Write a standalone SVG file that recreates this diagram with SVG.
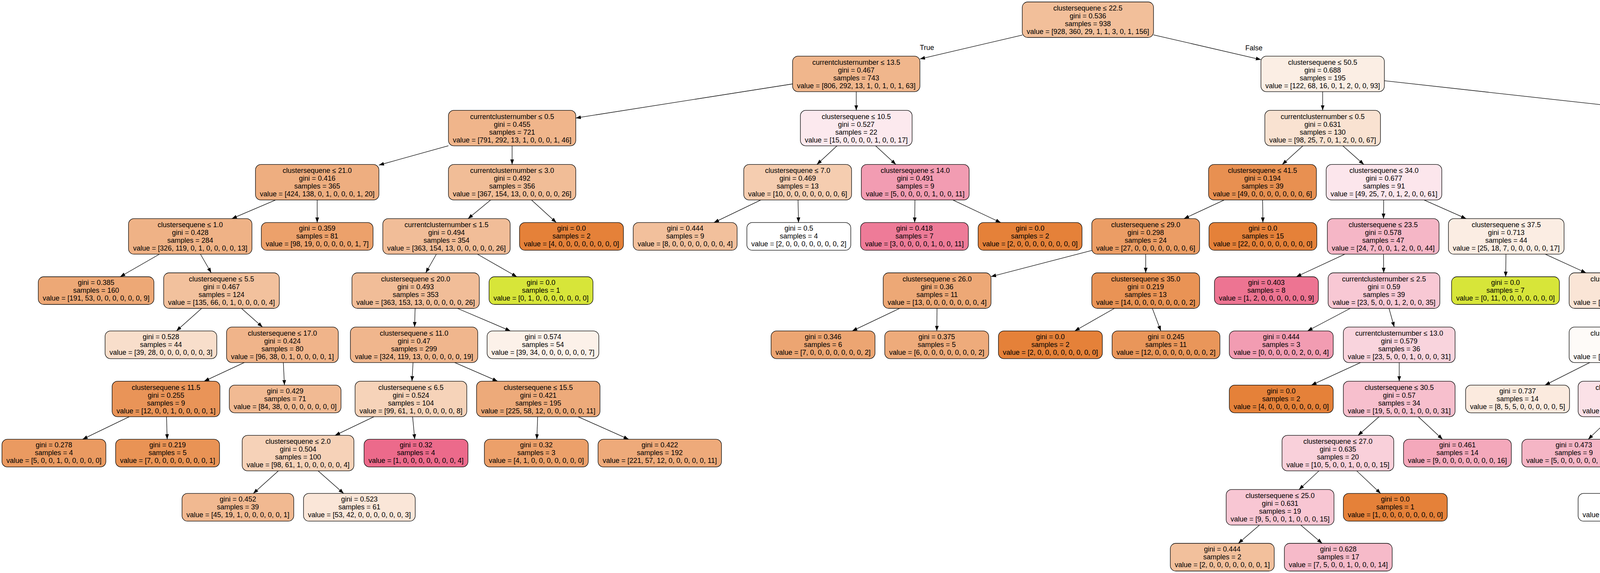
<svg xmlns="http://www.w3.org/2000/svg" width="6936" height="1468" viewBox="0 0 6936 1468">
<defs>
<style>
text{font-family:"Liberation Sans",Arial,Helvetica,sans-serif;font-size:18px;text-anchor:middle;fill:#000}
.node rect{stroke:#000;stroke-width:1.3}
.edges line{stroke:#000;stroke-width:1.3;marker-end:url(#arr)}
</style>
<marker id="arr" markerWidth="13" markerHeight="10" refX="13" refY="4.75" orient="auto" markerUnits="userSpaceOnUse"><path d="M0,0 L13,4.75 L0,9.5 z" fill="#000"/></marker>
</defs>
<rect x="0" y="0" width="6936" height="1468" fill="#fff"/>
<g id="edges" class="edges">
<line x1="2617" y1="89.8" x2="2355" y2="151.1"/>
<line x1="2953" y1="89.3" x2="3228" y2="152.8"/>
<line x1="2029" y1="215" x2="1474" y2="302.4"/>
<line x1="2192" y1="234.8" x2="2192" y2="282.6"/>
<line x1="3386" y1="234.8" x2="3386" y2="282.6"/>
<line x1="3544" y1="206.8" x2="4490" y2="311.7"/>
<line x1="1148" y1="373.4" x2="970" y2="423"/>
<line x1="1311" y1="373.6" x2="1311" y2="421.4"/>
<line x1="2142.8" y1="373.6" x2="2091.2" y2="421.4"/>
<line x1="2241.5" y1="373.6" x2="2293.5" y2="421.4"/>
<line x1="3335.5" y1="373.6" x2="3282.5" y2="421.4"/>
<line x1="3437.5" y1="373.6" x2="3491.5" y2="421.4"/>
<line x1="4638" y1="373.6" x2="4638" y2="421.4"/>
<line x1="4786" y1="373.2" x2="4946" y2="421.8"/>
<line x1="705.5" y1="512.4" x2="593.5" y2="560.2"/>
<line x1="812" y1="512.4" x2="812" y2="570.2"/>
<line x1="1255.9" y1="512.4" x2="1198.1" y2="560.2"/>
<line x1="1360.8" y1="512.4" x2="1424.1" y2="570.2"/>
<line x1="1947.6" y1="512.4" x2="1827.7" y2="570.2"/>
<line x1="2043" y1="512.4" x2="2044.2" y2="570.2"/>
<line x1="2342.3" y1="512.4" x2="2341.5" y2="570.2"/>
<line x1="2439.4" y1="512.4" x2="2561.8" y2="570.2"/>
<line x1="3134" y1="512.4" x2="3031" y2="560.2"/>
<line x1="3232.3" y1="512.4" x2="3233" y2="570.2"/>
<line x1="3542.3" y1="512.4" x2="3541.7" y2="560.2"/>
<line x1="3645.6" y1="512.4" x2="3753.4" y2="560.2"/>
<line x1="4565.2" y1="512.4" x2="4472.8" y2="570.2"/>
<line x1="4663.6" y1="512.4" x2="4690.4" y2="560.2"/>
<line x1="5093.7" y1="512.4" x2="5093.3" y2="560.2"/>
<line x1="5242" y1="487.9" x2="5927" y2="585.4"/>
<line x1="408" y1="651.2" x2="307.6" y2="709"/>
<line x1="513.2" y1="651.2" x2="540.8" y2="699"/>
<line x1="1117.1" y1="651.2" x2="1089.9" y2="699"/>
<line x1="1222.3" y1="651.2" x2="1323.1" y2="709"/>
<line x1="2795" y1="641.6" x2="2537" y2="708.6"/>
<line x1="2933" y1="651.2" x2="2933" y2="699"/>
<line x1="3443" y1="651.2" x2="3318.5" y2="709"/>
<line x1="3541.7" y1="651.2" x2="3542.3" y2="699"/>
<line x1="3855.3" y1="651.2" x2="3854.5" y2="709"/>
<line x1="3955.7" y1="651.2" x2="4060.3" y2="699"/>
<line x1="4632.4" y1="651.2" x2="4526.2" y2="709"/>
<line x1="4729.4" y1="651.2" x2="4746.5" y2="709"/>
<line x1="5079.9" y1="651.2" x2="5066.1" y2="699"/>
<line x1="5176.9" y1="651.2" x2="5265.1" y2="699"/>
<line x1="6070" y1="651.2" x2="6070" y2="699"/>
<line x1="6212.9" y1="651.2" x2="6373" y2="702.2"/>
<line x1="516.2" y1="790" x2="451.6" y2="847.8"/>
<line x1="618.1" y1="790" x2="671.9" y2="837.8"/>
<line x1="1062.7" y1="790" x2="1061.3" y2="837.8"/>
<line x1="1170.9" y1="790" x2="1306.6" y2="847.8"/>
<line x1="2303.3" y1="790" x2="2181.7" y2="847.8"/>
<line x1="2398.7" y1="790" x2="2398.3" y2="847.8"/>
<line x1="2853" y1="790" x2="2751.4" y2="847.8"/>
<line x1="2950" y1="790" x2="2971.7" y2="847.8"/>
<line x1="3456.8" y1="790" x2="3347.3" y2="847.8"/>
<line x1="3555.8" y1="790" x2="3569.2" y2="837.8"/>
<line x1="4160" y1="790" x2="4160" y2="837.8"/>
<line x1="4260.3" y1="790" x2="4365.7" y2="837.8"/>
<line x1="4957.9" y1="790" x2="4837.2" y2="847.8"/>
<line x1="5053" y1="790" x2="5053" y2="847.8"/>
<line x1="5347.4" y1="790" x2="5345.3" y2="847.8"/>
<line x1="5442.7" y1="790" x2="5541.3" y2="837.8"/>
<line x1="6022.5" y1="790" x2="5962.1" y2="847.8"/>
<line x1="6117.9" y1="790" x2="6178.7" y2="847.8"/>
<line x1="6506" y1="790" x2="6506" y2="847.8"/>
<line x1="6601.1" y1="790" x2="6721.8" y2="847.8"/>
<line x1="625.3" y1="928.8" x2="522.7" y2="976.6"/>
<line x1="725.3" y1="928.8" x2="728.2" y2="986.6"/>
<line x1="1057.4" y1="928.8" x2="1054.6" y2="976.6"/>
<line x1="1164.2" y1="928.8" x2="1273.8" y2="976.6"/>
<line x1="3483" y1="928.8" x2="3357.3" y2="986.6"/>
<line x1="3582" y1="928.8" x2="3582" y2="976.6"/>
<line x1="4069.9" y1="928.8" x2="3955.3" y2="986.6"/>
<line x1="4164.3" y1="928.8" x2="4168.7" y2="976.6"/>
<line x1="4466" y1="928.8" x2="4466" y2="986.6"/>
<line x1="4560.7" y1="928.8" x2="4681.1" y2="986.6"/>
<line x1="5587.1" y1="928.8" x2="5526.3" y2="986.6"/>
<line x1="5682.5" y1="928.8" x2="5742.9" y2="986.6"/>
<line x1="330.9" y1="1067.6" x2="211.4" y2="1125.4"/>
<line x1="426.3" y1="1067.6" x2="428" y2="1125.4"/>
<line x1="957.3" y1="1067.6" x2="857.7" y2="1115.4"/>
<line x1="1056.3" y1="1067.6" x2="1061.7" y2="1125.4"/>
<line x1="1376.4" y1="1067.6" x2="1374.3" y2="1125.4"/>
<line x1="1479.9" y1="1067.6" x2="1609.4" y2="1125.4"/>
<line x1="3530.5" y1="1067.6" x2="3476.5" y2="1115.4"/>
<line x1="3630.8" y1="1067.6" x2="3692.9" y2="1125.4"/>
<line x1="4125.8" y1="1067.6" x2="4065.8" y2="1125.4"/>
<line x1="4221.2" y1="1067.6" x2="4271.8" y2="1115.4"/>
<line x1="712.5" y1="1206.4" x2="648.4" y2="1264.2"/>
<line x1="814.5" y1="1206.4" x2="879.8" y2="1264.2"/>
<line x1="3376.5" y1="1206.4" x2="3325.5" y2="1254.2"/>
<line x1="3473.2" y1="1206.4" x2="3534.4" y2="1264.2"/>
<line x1="4271.8" y1="1206.4" x2="4210.6" y2="1264.2"/>
<line x1="4367.9" y1="1206.4" x2="4428.7" y2="1264.2"/>
<line x1="3224.3" y1="1345.2" x2="3170.1" y2="1392"/>
<line x1="3330" y1="1345.2" x2="3384.6" y2="1392"/>
<text x="2373" y="128">True</text>
<text x="3210" y="129">False</text>
</g>
<g id="n0" class="node" transform="translate(2785,50.5)"><rect x="-168" y="-45.5" width="336" height="91" rx="14" fill="#f2bf9a"/><text y="-23.5">clustersequene ≤ 22.5</text><text y="-3.5">gini = 0.536</text><text y="16.5">samples = 938</text><text y="36.5">value = [928, 360, 29, 1, 1, 3, 0, 1, 156]</text></g>
<g id="n1" class="node" transform="translate(2192,189.3)"><rect x="-163" y="-45.5" width="326" height="91" rx="14" fill="#f0b68c"/><text y="-23.5">currentclusternumber ≤ 13.5</text><text y="-3.5">gini = 0.467</text><text y="16.5">samples = 743</text><text y="36.5">value = [806, 292, 13, 1, 0, 1, 0, 1, 63]</text></g>
<g id="n2" class="node" transform="translate(3386,189.3)"><rect x="-158" y="-45.5" width="316" height="91" rx="14" fill="#fbeee4"/><text y="-23.5">clustersequene ≤ 50.5</text><text y="-3.5">gini = 0.688</text><text y="16.5">samples = 195</text><text y="36.5">value = [122, 68, 16, 0, 1, 2, 0, 0, 93]</text></g>
<g id="n3" class="node" transform="translate(1311,328.1)"><rect x="-163" y="-45.5" width="326" height="91" rx="14" fill="#f0b58b"/><text y="-23.5">currentclusternumber ≤ 0.5</text><text y="-3.5">gini = 0.455</text><text y="16.5">samples = 721</text><text y="36.5">value = [791, 292, 13, 1, 0, 0, 0, 1, 46]</text></g>
<g id="n4" class="node" transform="translate(2192,328.1)"><rect x="-143" y="-45.5" width="286" height="91" rx="14" fill="#fce9ee"/><text y="-23.5">clustersequene ≤ 10.5</text><text y="-3.5">gini = 0.527</text><text y="16.5">samples = 22</text><text y="36.5">value = [15, 0, 0, 0, 0, 1, 0, 0, 17]</text></g>
<g id="n5" class="node" transform="translate(3386,328.1)"><rect x="-148" y="-45.5" width="296" height="91" rx="14" fill="#f9e2d1"/><text y="-23.5">currentclusternumber ≤ 0.5</text><text y="-3.5">gini = 0.631</text><text y="16.5">samples = 130</text><text y="36.5">value = [98, 25, 7, 0, 1, 2, 0, 0, 67]</text></g>
<g id="n6" class="node" transform="translate(4638,328.1)"><rect x="-148" y="-45.5" width="296" height="91" rx="14" fill="#f6f9d3"/><text y="-23.5">clustersequene ≤ 53.5</text><text y="-3.5">gini = 0.694</text><text y="16.5">samples = 65</text><text y="36.5">value = [24, 43, 9, 0, 0, 0, 0, 0, 26]</text></g>
<g id="n7" class="node" transform="translate(812,466.9)"><rect x="-158" y="-45.5" width="316" height="91" rx="14" fill="#eeae80"/><text y="-23.5">clustersequene ≤ 21.0</text><text y="-3.5">gini = 0.416</text><text y="16.5">samples = 365</text><text y="36.5">value = [424, 138, 0, 1, 0, 0, 0, 1, 20]</text></g>
<g id="n8" class="node" transform="translate(1311,466.9)"><rect x="-163" y="-45.5" width="326" height="91" rx="14" fill="#f1bd97"/><text y="-23.5">currentclusternumber ≤ 3.0</text><text y="-3.5">gini = 0.492</text><text y="16.5">samples = 356</text><text y="36.5">value = [367, 154, 13, 0, 0, 0, 0, 0, 26]</text></g>
<g id="n9" class="node" transform="translate(2042,466.9)"><rect x="-138" y="-45.5" width="276" height="91" rx="14" fill="#f5cdb0"/><text y="-23.5">clustersequene ≤ 7.0</text><text y="-3.5">gini = 0.469</text><text y="16.5">samples = 13</text><text y="36.5">value = [10, 0, 0, 0, 0, 0, 0, 0, 6]</text></g>
<g id="n10" class="node" transform="translate(2343,466.9)"><rect x="-138" y="-45.5" width="276" height="91" rx="14" fill="#f29cb2"/><text y="-23.5">clustersequene ≤ 14.0</text><text y="-3.5">gini = 0.491</text><text y="16.5">samples = 9</text><text y="36.5">value = [5, 0, 0, 0, 0, 1, 0, 0, 11]</text></g>
<g id="n11" class="node" transform="translate(3232,466.9)"><rect x="-138" y="-45.5" width="276" height="91" rx="14" fill="#e89051"/><text y="-23.5">clustersequene ≤ 41.5</text><text y="-3.5">gini = 0.194</text><text y="16.5">samples = 39</text><text y="36.5">value = [49, 0, 0, 0, 0, 0, 0, 0, 6]</text></g>
<g id="n12" class="node" transform="translate(3543,466.9)"><rect x="-148" y="-45.5" width="296" height="91" rx="14" fill="#fce6ec"/><text y="-23.5">clustersequene ≤ 34.0</text><text y="-3.5">gini = 0.677</text><text y="16.5">samples = 91</text><text y="36.5">value = [49, 25, 7, 0, 1, 2, 0, 0, 61]</text></g>
<g id="n13" class="node" transform="translate(4638,466.9)"><rect x="-138" y="-45.5" width="276" height="91" rx="14" fill="#e9f194"/><text y="-23.5">clustersequene ≤ 51.5</text><text y="-3.5">gini = 0.571</text><text y="16.5">samples = 30</text><text y="36.5">value = [4, 27, 6, 0, 0, 0, 0, 0, 7]</text></g>
<g id="n14" class="node" transform="translate(5094,466.9)"><rect x="-148" y="-45.5" width="296" height="91" rx="14" fill="#fef9f5"/><text y="-23.5">currentclusternumber ≤ 8.5</text><text y="-3.5">gini = 0.695</text><text y="16.5">samples = 35</text><text y="36.5">value = [20, 16, 3, 0, 0, 0, 0, 0, 19]</text></g>
<g id="n15" class="node" transform="translate(487,605.7)"><rect x="-158" y="-45.5" width="316" height="91" rx="14" fill="#efb286"/><text y="-23.5">clustersequene ≤ 1.0</text><text y="-3.5">gini = 0.428</text><text y="16.5">samples = 284</text><text y="36.5">value = [326, 119, 0, 1, 0, 0, 0, 0, 13]</text></g>
<g id="n16" class="node" transform="translate(812,605.7)"><rect x="-143" y="-35.5" width="286" height="71" rx="14" fill="#eca16b"/><text y="-14.5">gini = 0.359</text><text y="5.5">samples = 81</text><text y="25.5">value = [98, 19, 0, 0, 0, 0, 0, 1, 7]</text></g>
<g id="n17" class="node" transform="translate(1143,605.7)"><rect x="-163" y="-45.5" width="326" height="91" rx="14" fill="#f1bd98"/><text y="-23.5">currentclusternumber ≤ 1.5</text><text y="-3.5">gini = 0.494</text><text y="16.5">samples = 354</text><text y="36.5">value = [363, 154, 13, 0, 0, 0, 0, 0, 26]</text></g>
<g id="n18" class="node" transform="translate(1463,605.7)"><rect x="-133" y="-35.5" width="266" height="71" rx="14" fill="#e58139"/><text y="-14.5">gini = 0.0</text><text y="5.5">samples = 2</text><text y="25.5">value = [4, 0, 0, 0, 0, 0, 0, 0, 0]</text></g>
<g id="n19" class="node" transform="translate(1754,605.7)"><rect x="-133" y="-35.5" width="266" height="71" rx="14" fill="#f2c09c"/><text y="-14.5">gini = 0.444</text><text y="5.5">samples = 9</text><text y="25.5">value = [8, 0, 0, 0, 0, 0, 0, 0, 4]</text></g>
<g id="n20" class="node" transform="translate(2045,605.7)"><rect x="-133" y="-35.5" width="266" height="71" rx="14" fill="#ffffff"/><text y="-14.5">gini = 0.5</text><text y="5.5">samples = 4</text><text y="25.5">value = [2, 0, 0, 0, 0, 0, 0, 0, 2]</text></g>
<g id="n21" class="node" transform="translate(2341,605.7)"><rect x="-138" y="-35.5" width="276" height="71" rx="14" fill="#ee7b98"/><text y="-14.5">gini = 0.418</text><text y="5.5">samples = 7</text><text y="25.5">value = [3, 0, 0, 0, 0, 1, 0, 0, 11]</text></g>
<g id="n22" class="node" transform="translate(2637,605.7)"><rect x="-133" y="-35.5" width="266" height="71" rx="14" fill="#e58139"/><text y="-14.5">gini = 0.0</text><text y="5.5">samples = 2</text><text y="25.5">value = [2, 0, 0, 0, 0, 0, 0, 0, 0]</text></g>
<g id="n23" class="node" transform="translate(2933,605.7)"><rect x="-138" y="-45.5" width="276" height="91" rx="14" fill="#eb9d65"/><text y="-23.5">clustersequene ≤ 29.0</text><text y="-3.5">gini = 0.298</text><text y="16.5">samples = 24</text><text y="36.5">value = [27, 0, 0, 0, 0, 0, 0, 0, 6]</text></g>
<g id="n24" class="node" transform="translate(3233,605.7)"><rect x="-138" y="-35.5" width="276" height="71" rx="14" fill="#e58139"/><text y="-14.5">gini = 0.0</text><text y="5.5">samples = 15</text><text y="25.5">value = [22, 0, 0, 0, 0, 0, 0, 0, 0]</text></g>
<g id="n25" class="node" transform="translate(3541,605.7)"><rect x="-143" y="-45.5" width="286" height="91" rx="14" fill="#f5b6c6"/><text y="-23.5">clustersequene ≤ 23.5</text><text y="-3.5">gini = 0.578</text><text y="16.5">samples = 47</text><text y="36.5">value = [24, 7, 0, 0, 1, 2, 0, 0, 44]</text></g>
<g id="n26" class="node" transform="translate(3856,605.7)"><rect x="-148" y="-45.5" width="296" height="91" rx="14" fill="#fbede3"/><text y="-23.5">clustersequene ≤ 37.5</text><text y="-3.5">gini = 0.713</text><text y="16.5">samples = 44</text><text y="36.5">value = [25, 18, 7, 0, 0, 0, 0, 0, 17]</text></g>
<g id="n27" class="node" transform="translate(4416,605.7)"><rect x="-138" y="-35.5" width="276" height="71" rx="14" fill="#e6ef82"/><text y="-14.5">gini = 0.469</text><text y="5.5">samples = 15</text><text y="25.5">value = [0, 16, 3, 0, 0, 0, 0, 0, 4]</text></g>
<g id="n28" class="node" transform="translate(4716,605.7)"><rect x="-138" y="-45.5" width="276" height="91" rx="14" fill="#eff4ad"/><text y="-23.5">clustersequene ≤ 52.5</text><text y="-3.5">gini = 0.649</text><text y="16.5">samples = 15</text><text y="36.5">value = [4, 11, 3, 0, 0, 0, 0, 0, 3]</text></g>
<g id="n29" class="node" transform="translate(5093,605.7)"><rect x="-138" y="-45.5" width="276" height="91" rx="14" fill="#f6f9d1"/><text y="-23.5">clustersequene ≤ 57.5</text><text y="-3.5">gini = 0.691</text><text y="16.5">samples = 21</text><text y="36.5">value = [9, 15, 3, 0, 0, 0, 0, 0, 8]</text></g>
<g id="n30" class="node" transform="translate(6070,605.7)"><rect x="-143" y="-45.5" width="286" height="91" rx="14" fill="#ffffff"/><text y="-23.5">clustersequene ≤ 60.0</text><text y="-3.5">gini = 0.541</text><text y="16.5">samples = 14</text><text y="36.5">value = [11, 1, 0, 0, 0, 0, 0, 0, 11]</text></g>
<g id="n31" class="node" transform="translate(246,744.5)"><rect x="-148" y="-35.5" width="296" height="71" rx="14" fill="#eda876"/><text y="-14.5">gini = 0.385</text><text y="5.5">samples = 160</text><text y="25.5">value = [191, 53, 0, 0, 0, 0, 0, 0, 9]</text></g>
<g id="n32" class="node" transform="translate(567,744.5)"><rect x="-148" y="-45.5" width="296" height="91" rx="14" fill="#f2c19d"/><text y="-23.5">clustersequene ≤ 5.5</text><text y="-3.5">gini = 0.467</text><text y="16.5">samples = 124</text><text y="36.5">value = [135, 66, 0, 1, 0, 0, 0, 0, 4]</text></g>
<g id="n33" class="node" transform="translate(1064,744.5)"><rect x="-163" y="-45.5" width="326" height="91" rx="14" fill="#f1bd98"/><text y="-23.5">clustersequene ≤ 20.0</text><text y="-3.5">gini = 0.493</text><text y="16.5">samples = 353</text><text y="36.5">value = [363, 153, 13, 0, 0, 0, 0, 0, 26]</text></g>
<g id="n34" class="node" transform="translate(1385,744.5)"><rect x="-133" y="-35.5" width="266" height="71" rx="14" fill="#d7e539"/><text y="-14.5">gini = 0.0</text><text y="5.5">samples = 1</text><text y="25.5">value = [0, 1, 0, 0, 0, 0, 0, 0, 0]</text></g>
<g id="n35" class="node" transform="translate(2399,744.5)"><rect x="-138" y="-45.5" width="276" height="91" rx="14" fill="#eda876"/><text y="-23.5">clustersequene ≤ 26.0</text><text y="-3.5">gini = 0.36</text><text y="16.5">samples = 11</text><text y="36.5">value = [13, 0, 0, 0, 0, 0, 0, 0, 4]</text></g>
<g id="n36" class="node" transform="translate(2933,744.5)"><rect x="-138" y="-45.5" width="276" height="91" rx="14" fill="#e99355"/><text y="-23.5">clustersequene ≤ 35.0</text><text y="-3.5">gini = 0.219</text><text y="16.5">samples = 13</text><text y="36.5">value = [14, 0, 0, 0, 0, 0, 0, 0, 2]</text></g>
<g id="n37" class="node" transform="translate(3242,744.5)"><rect x="-133" y="-35.5" width="266" height="71" rx="14" fill="#ed7492"/><text y="-14.5">gini = 0.403</text><text y="5.5">samples = 8</text><text y="25.5">value = [1, 2, 0, 0, 0, 0, 0, 0, 9]</text></g>
<g id="n38" class="node" transform="translate(3543,744.5)"><rect x="-143" y="-45.5" width="286" height="91" rx="14" fill="#f8c8d4"/><text y="-23.5">currentclusternumber ≤ 2.5</text><text y="-3.5">gini = 0.59</text><text y="16.5">samples = 39</text><text y="36.5">value = [23, 5, 0, 0, 1, 2, 0, 0, 35]</text></g>
<g id="n39" class="node" transform="translate(3854,744.5)"><rect x="-138" y="-35.5" width="276" height="71" rx="14" fill="#d7e539"/><text y="-14.5">gini = 0.0</text><text y="5.5">samples = 7</text><text y="25.5">value = [0, 11, 0, 0, 0, 0, 0, 0, 0]</text></g>
<g id="n40" class="node" transform="translate(4160,744.5)"><rect x="-143" y="-45.5" width="286" height="91" rx="14" fill="#fae5d6"/><text y="-23.5">clustersequene ≤ 42.5</text><text y="-3.5">gini = 0.677</text><text y="16.5">samples = 37</text><text y="36.5">value = [25, 7, 7, 0, 0, 0, 0, 0, 17]</text></g>
<g id="n41" class="node" transform="translate(4461,744.5)"><rect x="-133" y="-35.5" width="266" height="71" rx="14" fill="#e58139"/><text y="-14.5">gini = 0.0</text><text y="5.5">samples = 1</text><text y="25.5">value = [1, 0, 0, 0, 0, 0, 0, 0, 0]</text></g>
<g id="n42" class="node" transform="translate(4757,744.5)"><rect x="-138" y="-35.5" width="276" height="71" rx="14" fill="#ecf3a2"/><text y="-14.5">gini = 0.63</text><text y="5.5">samples = 14</text><text y="25.5">value = [3, 11, 3, 0, 0, 0, 0, 0, 3]</text></g>
<g id="n43" class="node" transform="translate(5053,744.5)"><rect x="-133" y="-45.5" width="266" height="91" rx="14" fill="#f2c09c"/><text y="-23.5">currentclusternumber ≤ 0.5</text><text y="-3.5">gini = 0.531</text><text y="16.5">samples = 5</text><text y="36.5">value = [5, 1, 0, 0, 0, 0, 0, 0, 2]</text></g>
<g id="n44" class="node" transform="translate(5349,744.5)"><rect x="-138" y="-45.5" width="276" height="91" rx="14" fill="#f0f5b4"/><text y="-23.5">clustersequene ≤ 60.5</text><text y="-3.5">gini = 0.647</text><text y="16.5">samples = 16</text><text y="36.5">value = [4, 14, 3, 0, 0, 0, 0, 0, 6]</text></g>
<g id="n45" class="node" transform="translate(6070,744.5)"><rect x="-133" y="-45.5" width="266" height="91" rx="14" fill="#eca06a"/><text y="-23.5">clustersequene ≤ 56.5</text><text y="-3.5">gini = 0.32</text><text y="16.5">samples = 6</text><text y="36.5">value = [8, 0, 0, 0, 0, 0, 0, 0, 2]</text></g>
<g id="n46" class="node" transform="translate(6506,744.5)"><rect x="-133" y="-45.5" width="266" height="91" rx="14" fill="#ef88a2"/><text y="-23.5">clustersequene ≤ 64.0</text><text y="-3.5">gini = 0.462</text><text y="16.5">samples = 8</text><text y="36.5">value = [3, 1, 0, 0, 0, 0, 0, 0, 9]</text></g>
<g id="n47" class="node" transform="translate(412,883.3)"><rect x="-143" y="-35.5" width="286" height="71" rx="14" fill="#f8decb"/><text y="-14.5">gini = 0.528</text><text y="5.5">samples = 44</text><text y="25.5">value = [39, 28, 0, 0, 0, 0, 0, 0, 3]</text></g>
<g id="n48" class="node" transform="translate(723,883.3)"><rect x="-143" y="-45.5" width="286" height="91" rx="14" fill="#f0b48a"/><text y="-23.5">clustersequene ≤ 17.0</text><text y="-3.5">gini = 0.424</text><text y="16.5">samples = 80</text><text y="36.5">value = [96, 38, 0, 1, 0, 0, 0, 0, 1]</text></g>
<g id="n49" class="node" transform="translate(1060,883.3)"><rect x="-163" y="-45.5" width="326" height="91" rx="14" fill="#f0b68d"/><text y="-23.5">clustersequene ≤ 11.0</text><text y="-3.5">gini = 0.47</text><text y="16.5">samples = 299</text><text y="36.5">value = [324, 119, 13, 0, 0, 0, 0, 0, 19]</text></g>
<g id="n50" class="node" transform="translate(1390,883.3)"><rect x="-143" y="-35.5" width="286" height="71" rx="14" fill="#fcf1e9"/><text y="-14.5">gini = 0.574</text><text y="5.5">samples = 54</text><text y="25.5">value = [39, 34, 0, 0, 0, 0, 0, 0, 7]</text></g>
<g id="n51" class="node" transform="translate(2107,883.3)"><rect x="-133" y="-35.5" width="266" height="71" rx="14" fill="#eca572"/><text y="-14.5">gini = 0.346</text><text y="5.5">samples = 6</text><text y="25.5">value = [7, 0, 0, 0, 0, 0, 0, 0, 2]</text></g>
<g id="n52" class="node" transform="translate(2398,883.3)"><rect x="-133" y="-35.5" width="266" height="71" rx="14" fill="#eeab7b"/><text y="-14.5">gini = 0.375</text><text y="5.5">samples = 5</text><text y="25.5">value = [6, 0, 0, 0, 0, 0, 0, 0, 2]</text></g>
<g id="n53" class="node" transform="translate(2689,883.3)"><rect x="-133" y="-35.5" width="266" height="71" rx="14" fill="#e58139"/><text y="-14.5">gini = 0.0</text><text y="5.5">samples = 2</text><text y="25.5">value = [2, 0, 0, 0, 0, 0, 0, 0, 0]</text></g>
<g id="n54" class="node" transform="translate(2985,883.3)"><rect x="-138" y="-35.5" width="276" height="71" rx="14" fill="#e9965a"/><text y="-14.5">gini = 0.245</text><text y="5.5">samples = 11</text><text y="25.5">value = [12, 0, 0, 0, 0, 0, 0, 0, 2]</text></g>
<g id="n55" class="node" transform="translate(3280,883.3)"><rect x="-133" y="-35.5" width="266" height="71" rx="14" fill="#f29cb2"/><text y="-14.5">gini = 0.444</text><text y="5.5">samples = 3</text><text y="25.5">value = [0, 0, 0, 0, 0, 2, 0, 0, 4]</text></g>
<g id="n56" class="node" transform="translate(3582,883.3)"><rect x="-143" y="-45.5" width="286" height="91" rx="14" fill="#f9d4dd"/><text y="-23.5">currentclusternumber ≤ 13.0</text><text y="-3.5">gini = 0.579</text><text y="16.5">samples = 36</text><text y="36.5">value = [23, 5, 0, 0, 1, 0, 0, 0, 31]</text></g>
<g id="n57" class="node" transform="translate(4160,883.3)"><rect x="-143" y="-45.5" width="286" height="91" rx="14" fill="#fefbf8"/><text y="-23.5">clustersequene ≤ 39.0</text><text y="-3.5">gini = 0.719</text><text y="16.5">samples = 28</text><text y="36.5">value = [15, 7, 7, 0, 0, 0, 0, 0, 14]</text></g>
<g id="n58" class="node" transform="translate(4466,883.3)"><rect x="-138" y="-45.5" width="276" height="91" rx="14" fill="#eda774"/><text y="-23.5">currentclusternumber ≤ 13.0</text><text y="-3.5">gini = 0.355</text><text y="16.5">samples = 9</text><text y="36.5">value = [10, 0, 0, 0, 0, 0, 0, 0, 3]</text></g>
<g id="n59" class="node" transform="translate(4763,883.3)"><rect x="-133" y="-35.5" width="266" height="71" rx="14" fill="#f2c09c"/><text y="-14.5">gini = 0.444</text><text y="5.5">samples = 2</text><text y="25.5">value = [2, 1, 0, 0, 0, 0, 0, 0, 0]</text></g>
<g id="n60" class="node" transform="translate(5053,883.3)"><rect x="-133" y="-35.5" width="266" height="71" rx="14" fill="#f6d5bd"/><text y="-14.5">gini = 0.48</text><text y="5.5">samples = 3</text><text y="25.5">value = [3, 0, 0, 0, 0, 0, 0, 0, 2]</text></g>
<g id="n61" class="node" transform="translate(5344,883.3)"><rect x="-133" y="-35.5" width="266" height="71" rx="14" fill="#dde955"/><text y="-14.5">gini = 0.219</text><text y="5.5">samples = 5</text><text y="25.5">value = [0, 7, 1, 0, 0, 0, 0, 0, 0]</text></g>
<g id="n62" class="node" transform="translate(5635,883.3)"><rect x="-133" y="-45.5" width="266" height="91" rx="14" fill="#fcfdf0"/><text y="-23.5">currentclusternumber ≤ 0.5</text><text y="-3.5">gini = 0.709</text><text y="16.5">samples = 11</text><text y="36.5">value = [4, 7, 2, 0, 0, 0, 0, 0, 6]</text></g>
<g id="n63" class="node" transform="translate(5925,883.3)"><rect x="-133" y="-35.5" width="266" height="71" rx="14" fill="#e58139"/><text y="-14.5">gini = 0.0</text><text y="5.5">samples = 1</text><text y="25.5">value = [2, 0, 0, 0, 0, 0, 0, 0, 0]</text></g>
<g id="n64" class="node" transform="translate(6216,883.3)"><rect x="-133" y="-35.5" width="266" height="71" rx="14" fill="#eeab7b"/><text y="-14.5">gini = 0.375</text><text y="5.5">samples = 5</text><text y="25.5">value = [6, 0, 0, 0, 0, 0, 0, 0, 2]</text></g>
<g id="n65" class="node" transform="translate(6506,883.3)"><rect x="-133" y="-35.5" width="266" height="71" rx="14" fill="#ef88a2"/><text y="-14.5">gini = 0.5</text><text y="5.5">samples = 5</text><text y="25.5">value = [1, 1, 0, 0, 0, 0, 0, 0, 4]</text></g>
<g id="n66" class="node" transform="translate(6796,883.3)"><rect x="-133" y="-35.5" width="266" height="71" rx="14" fill="#ef88a2"/><text y="-14.5">gini = 0.408</text><text y="5.5">samples = 3</text><text y="25.5">value = [2, 0, 0, 0, 0, 0, 0, 0, 5]</text></g>
<g id="n67" class="node" transform="translate(425,1022.1)"><rect x="-138" y="-45.5" width="276" height="91" rx="14" fill="#e99458"/><text y="-23.5">clustersequene ≤ 11.5</text><text y="-3.5">gini = 0.255</text><text y="16.5">samples = 9</text><text y="36.5">value = [12, 0, 0, 1, 0, 0, 0, 0, 1]</text></g>
<g id="n68" class="node" transform="translate(730,1022.1)"><rect x="-143" y="-35.5" width="286" height="71" rx="14" fill="#f1ba93"/><text y="-14.5">gini = 0.429</text><text y="5.5">samples = 71</text><text y="25.5">value = [84, 38, 0, 0, 0, 0, 0, 0, 0]</text></g>
<g id="n69" class="node" transform="translate(1052,1022.1)"><rect x="-143" y="-45.5" width="286" height="91" rx="14" fill="#f6d3b9"/><text y="-23.5">clustersequene ≤ 6.5</text><text y="-3.5">gini = 0.524</text><text y="16.5">samples = 104</text><text y="36.5">value = [99, 61, 1, 0, 0, 0, 0, 0, 8]</text></g>
<g id="n70" class="node" transform="translate(1378,1022.1)"><rect x="-158" y="-45.5" width="316" height="91" rx="14" fill="#edaa7a"/><text y="-23.5">clustersequene ≤ 15.5</text><text y="-3.5">gini = 0.421</text><text y="16.5">samples = 195</text><text y="36.5">value = [225, 58, 12, 0, 0, 0, 0, 0, 11]</text></g>
<g id="n71" class="node" transform="translate(3280,1022.1)"><rect x="-133" y="-35.5" width="266" height="71" rx="14" fill="#e58139"/><text y="-14.5">gini = 0.0</text><text y="5.5">samples = 2</text><text y="25.5">value = [4, 0, 0, 0, 0, 0, 0, 0, 0]</text></g>
<g id="n72" class="node" transform="translate(3582,1022.1)"><rect x="-143" y="-45.5" width="286" height="91" rx="14" fill="#f7bfcd"/><text y="-23.5">clustersequene ≤ 30.5</text><text y="-3.5">gini = 0.57</text><text y="16.5">samples = 34</text><text y="36.5">value = [19, 5, 0, 0, 1, 0, 0, 0, 31]</text></g>
<g id="n73" class="node" transform="translate(3885,1022.1)"><rect x="-133" y="-35.5" width="266" height="71" rx="14" fill="#fbeade"/><text y="-14.5">gini = 0.737</text><text y="5.5">samples = 14</text><text y="25.5">value = [8, 5, 5, 0, 0, 0, 0, 0, 5]</text></g>
<g id="n74" class="node" transform="translate(4173,1022.1)"><rect x="-133" y="-45.5" width="266" height="91" rx="14" fill="#fbe1e7"/><text y="-23.5">clustersequene ≤ 40.5</text><text y="-3.5">gini = 0.655</text><text y="16.5">samples = 14</text><text y="36.5">value = [7, 2, 2, 0, 0, 0, 0, 0, 9]</text></g>
<g id="n75" class="node" transform="translate(4466,1022.1)"><rect x="-133" y="-35.5" width="266" height="71" rx="14" fill="#e58139"/><text y="-14.5">gini = 0.0</text><text y="5.5">samples = 1</text><text y="25.5">value = [1, 0, 0, 0, 0, 0, 0, 0, 0]</text></g>
<g id="n76" class="node" transform="translate(4755,1022.1)"><rect x="-133" y="-35.5" width="266" height="71" rx="14" fill="#eeab7b"/><text y="-14.5">gini = 0.375</text><text y="5.5">samples = 8</text><text y="25.5">value = [9, 0, 0, 0, 0, 0, 0, 0, 3]</text></g>
<g id="n77" class="node" transform="translate(5489,1022.1)"><rect x="-133" y="-35.5" width="266" height="71" rx="14" fill="#e58139"/><text y="-14.5">gini = 0.0</text><text y="5.5">samples = 1</text><text y="25.5">value = [1, 0, 0, 0, 0, 0, 0, 0, 0]</text></g>
<g id="n78" class="node" transform="translate(5780,1022.1)"><rect x="-133" y="-35.5" width="266" height="71" rx="14" fill="#fcfdee"/><text y="-14.5">gini = 0.698</text><text y="5.5">samples = 10</text><text y="25.5">value = [3, 7, 2, 0, 0, 0, 0, 0, 6]</text></g>
<g id="n79" class="node" transform="translate(138,1160.9)"><rect x="-133" y="-35.5" width="266" height="71" rx="14" fill="#ea9a61"/><text y="-14.5">gini = 0.278</text><text y="5.5">samples = 4</text><text y="25.5">value = [5, 0, 0, 1, 0, 0, 0, 0, 0]</text></g>
<g id="n80" class="node" transform="translate(429,1160.9)"><rect x="-133" y="-35.5" width="266" height="71" rx="14" fill="#e99355"/><text y="-14.5">gini = 0.219</text><text y="5.5">samples = 5</text><text y="25.5">value = [7, 0, 0, 0, 0, 0, 0, 0, 1]</text></g>
<g id="n81" class="node" transform="translate(763,1160.9)"><rect x="-143" y="-45.5" width="286" height="91" rx="14" fill="#f6d2b8"/><text y="-23.5">clustersequene ≤ 2.0</text><text y="-3.5">gini = 0.504</text><text y="16.5">samples = 100</text><text y="36.5">value = [98, 61, 1, 0, 0, 0, 0, 0, 4]</text></g>
<g id="n82" class="node" transform="translate(1065,1160.9)"><rect x="-133" y="-35.5" width="266" height="71" rx="14" fill="#ec6a8b"/><text y="-14.5">gini = 0.32</text><text y="5.5">samples = 4</text><text y="25.5">value = [1, 0, 0, 0, 0, 0, 0, 0, 4]</text></g>
<g id="n83" class="node" transform="translate(1373,1160.9)"><rect x="-133" y="-35.5" width="266" height="71" rx="14" fill="#eca06a"/><text y="-14.5">gini = 0.32</text><text y="5.5">samples = 3</text><text y="25.5">value = [4, 1, 0, 0, 0, 0, 0, 0, 0]</text></g>
<g id="n84" class="node" transform="translate(1689,1160.9)"><rect x="-158" y="-35.5" width="316" height="71" rx="14" fill="#eeaa7a"/><text y="-14.5">gini = 0.422</text><text y="5.5">samples = 192</text><text y="25.5">value = [221, 57, 12, 0, 0, 0, 0, 0, 11]</text></g>
<g id="n85" class="node" transform="translate(3425,1160.9)"><rect x="-143" y="-45.5" width="286" height="91" rx="14" fill="#f9d0da"/><text y="-23.5">clustersequene ≤ 27.0</text><text y="-3.5">gini = 0.635</text><text y="16.5">samples = 20</text><text y="36.5">value = [10, 5, 0, 0, 1, 0, 0, 0, 15]</text></g>
<g id="n86" class="node" transform="translate(3731,1160.9)"><rect x="-138" y="-35.5" width="276" height="71" rx="14" fill="#f4a8bb"/><text y="-14.5">gini = 0.461</text><text y="5.5">samples = 14</text><text y="25.5">value = [9, 0, 0, 0, 0, 0, 0, 0, 16]</text></g>
<g id="n87" class="node" transform="translate(4029,1160.9)"><rect x="-133" y="-35.5" width="266" height="71" rx="14" fill="#f5b5c5"/><text y="-14.5">gini = 0.473</text><text y="5.5">samples = 9</text><text y="25.5">value = [5, 0, 0, 0, 0, 0, 0, 0, 8]</text></g>
<g id="n88" class="node" transform="translate(4320,1160.9)"><rect x="-133" y="-45.5" width="266" height="91" rx="14" fill="#ffffff"/><text y="-23.5">clustersequene ≤ 41.5</text><text y="-3.5">gini = 0.735</text><text y="16.5">samples = 5</text><text y="36.5">value = [2, 2, 2, 0, 0, 0, 0, 0, 1]</text></g>
<g id="n89" class="node" transform="translate(609,1299.7)"><rect x="-143" y="-35.5" width="286" height="71" rx="14" fill="#f1b991"/><text y="-14.5">gini = 0.452</text><text y="5.5">samples = 39</text><text y="25.5">value = [45, 19, 1, 0, 0, 0, 0, 0, 1]</text></g>
<g id="n90" class="node" transform="translate(920,1299.7)"><rect x="-143" y="-35.5" width="286" height="71" rx="14" fill="#fae6d8"/><text y="-14.5">gini = 0.523</text><text y="5.5">samples = 61</text><text y="25.5">value = [53, 42, 0, 0, 0, 0, 0, 0, 3]</text></g>
<g id="n91" class="node" transform="translate(3277,1299.7)"><rect x="-138" y="-45.5" width="276" height="91" rx="14" fill="#f8c6d3"/><text y="-23.5">clustersequene ≤ 25.0</text><text y="-3.5">gini = 0.631</text><text y="16.5">samples = 19</text><text y="36.5">value = [9, 5, 0, 0, 1, 0, 0, 0, 15]</text></g>
<g id="n92" class="node" transform="translate(3572,1299.7)"><rect x="-133" y="-35.5" width="266" height="71" rx="14" fill="#e58139"/><text y="-14.5">gini = 0.0</text><text y="5.5">samples = 1</text><text y="25.5">value = [1, 0, 0, 0, 0, 0, 0, 0, 0]</text></g>
<g id="n93" class="node" transform="translate(4173,1299.7)"><rect x="-133" y="-35.5" width="266" height="71" rx="14" fill="#ffffff"/><text y="-14.5">gini = 0.667</text><text y="5.5">samples = 4</text><text y="25.5">value = [2, 2, 2, 0, 0, 0, 0, 0, 0]</text></g>
<g id="n94" class="node" transform="translate(4466,1299.7)"><rect x="-133" y="-35.5" width="266" height="71" rx="14" fill="#e53964"/><text y="-14.5">gini = 0.0</text><text y="5.5">samples = 1</text><text y="25.5">value = [0, 0, 0, 0, 0, 0, 0, 0, 1]</text></g>
<g id="n95" class="node" transform="translate(3129,1427.5)"><rect x="-133" y="-35.5" width="266" height="71" rx="14" fill="#f2c09c"/><text y="-14.5">gini = 0.444</text><text y="5.5">samples = 2</text><text y="25.5">value = [2, 0, 0, 0, 0, 0, 0, 0, 1]</text></g>
<g id="n96" class="node" transform="translate(3426,1427.5)"><rect x="-138" y="-35.5" width="276" height="71" rx="14" fill="#f6bac9"/><text y="-14.5">gini = 0.628</text><text y="5.5">samples = 17</text><text y="25.5">value = [7, 5, 0, 0, 1, 0, 0, 0, 14]</text></g>
</svg>
